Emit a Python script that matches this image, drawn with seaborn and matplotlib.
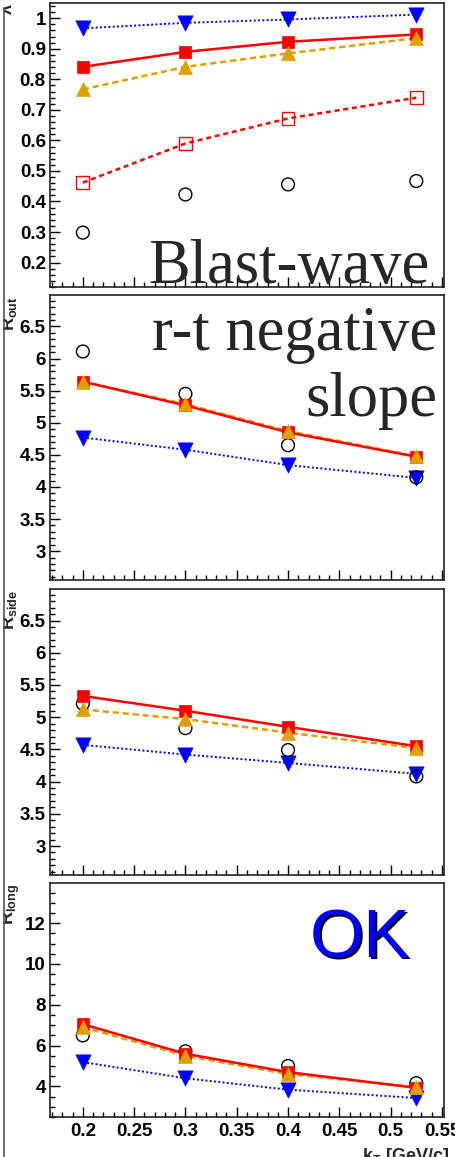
import numpy as np
import pandas as pd
import seaborn as sns
import matplotlib
matplotlib.use("Agg")
import matplotlib.pyplot as plt
from matplotlib.ticker import MultipleLocator, FuncFormatter
from matplotlib.patches import Rectangle
from matplotlib.lines import Line2D

# ---------------- data ----------------
kt = [0.2, 0.3, 0.4, 0.525]

lam_data = [0.298, 0.423, 0.456, 0.467]
lam_red = [0.841, 0.890, 0.923, 0.947]
lam_orange = [0.767, 0.841, 0.885, 0.935]
lam_blue = [0.967, 0.985, 0.996, 1.012]
lam_open = [0.462, 0.590, 0.672, 0.740]

rout_data = [6.11, 5.45, 4.65, 4.15]
rout_red = [5.64, 5.27, 4.85, 4.47]
rout_orange = [5.64, 5.29, 4.87, 4.48]
rout_blue = [4.77, 4.58, 4.34, 4.14]

rside_data = [5.21, 4.83, 4.49, 4.08]
rside_red = [5.33, 5.10, 4.85, 4.55]
rside_orange = [5.12, 4.97, 4.76, 4.52]
rside_blue = [4.57, 4.42, 4.29, 4.12]

rlong_data = [6.50, 5.72, 5.00, 4.16]
rlong_red = [7.05, 5.60, 4.70, 3.93]
rlong_orange = [6.90, 5.50, 4.60, 3.97]
rlong_blue = [5.19, 4.40, 3.84, 3.43]

ylabels = ["λ", r"$\mathbf{R_{out}}$", r"$\mathbf{R_{side}}$", r"$\mathbf{R_{long}}$"]
xlabel = r"$\mathbf{k_T}$ [GeV/c]"

# ---------------- style ----------------
sns.set_style("white")
plt.rcParams['font.family'] = ['Liberation Sans', 'DejaVu Sans']
plt.rcParams['mathtext.fontset'] = 'custom'
plt.rcParams['mathtext.rm'] = 'Liberation Sans'
plt.rcParams['mathtext.bf'] = 'Liberation Sans:bold'
plt.rcParams['mathtext.it'] = 'Liberation Sans:italic'

W, H = 456, 1157
fig = plt.figure(figsize=(W / 100, H / 100), dpi=100)

RED = '#ff0000'
ORANGE = '#dfa000'
BLUE = '#0000ff'

def px_axes(top, bottom, left=50, right=444):
    return fig.add_axes([left / W, (H - bottom) / H, (right - left) / W, (bottom - top) / H])

panels = [
    dict(top=3, bottom=287, ylim=(0.12, 1.05), major=0.1, minor=0.02,
         data=lam_data, red=lam_red, orange=lam_orange, blue=lam_blue, opn=lam_open),
    dict(top=295, bottom=580, ylim=(2.55, 6.99), major=0.5, minor=0.1,
         data=rout_data, red=rout_red, orange=rout_orange, blue=rout_blue, opn=None),
    dict(top=589, bottom=875, ylim=(2.55, 6.99), major=0.5, minor=0.1,
         data=rside_data, red=rside_red, orange=rside_orange, blue=rside_blue, opn=None),
    dict(top=883, bottom=1117, ylim=(2.5, 13.97), major=2, minor=0.5,
         data=rlong_data, red=rlong_red, orange=rlong_orange, blue=rlong_blue, opn=None),
]

fmt = FuncFormatter(lambda v, p: f"{v:g}")
axes = []
for i, p in enumerate(panels):
    ax = px_axes(p['top'], p['bottom'])
    axes.append(ax)
    # lines
    sns.lineplot(x=kt, y=p['blue'], ax=ax, color=BLUE, linestyle=(0, (1, 1.2)), linewidth=1.4, zorder=2)
    sns.lineplot(x=kt, y=p['orange'], ax=ax, color=ORANGE, linestyle=(0, (2.5, 1.5)), linewidth=1.8, zorder=2)
    sns.lineplot(x=kt, y=p['red'], ax=ax, color=RED, linestyle='-', linewidth=1.8, zorder=3)
    if p['opn'] is not None:
        sns.lineplot(x=kt, y=p['opn'], ax=ax, color=RED, linestyle=(0, (2, 1.5)), linewidth=1.8, zorder=2)
        sns.scatterplot(x=kt, y=p['opn'], ax=ax, marker='s', s=85, facecolor='none',
                        edgecolor=RED, linewidth=1.0, zorder=4)
    # points
    sns.scatterplot(x=kt, y=p['blue'], ax=ax, marker='v', s=120, color=BLUE, edgecolor=BLUE, linewidth=0.5, zorder=4)
    sns.scatterplot(x=kt, y=p['data'], ax=ax, marker='o', s=85, facecolor='none', edgecolor='black', linewidth=1.0, zorder=5)
    sns.scatterplot(x=kt, y=p['red'], ax=ax, marker='s', s=85, color=RED, edgecolor=RED, linewidth=0.5, zorder=6)
    sns.scatterplot(x=kt, y=p['orange'], ax=ax, marker='^', s=100, color=ORANGE, edgecolor=ORANGE, linewidth=0.5, zorder=7)

    ax.set_xlim(0.168, 0.552)
    ax.set_ylim(*p['ylim'])
    ax.xaxis.set_major_locator(MultipleLocator(0.05))
    ax.xaxis.set_minor_locator(MultipleLocator(0.01))
    ax.yaxis.set_major_locator(MultipleLocator(p['major']))
    ax.yaxis.set_minor_locator(MultipleLocator(p['minor']))
    ax.yaxis.set_major_formatter(fmt)
    ax.xaxis.set_major_formatter(fmt)
    ax.tick_params(which='both', direction='in', left=True, bottom=True, top=False, right=False,
                   labelsize=13.5, colors='black', width=1.0)
    ax.tick_params(which='major', length=7.5)
    ax.tick_params(which='minor', length=3.6)
    ax.tick_params(axis='y', pad=3)
    ax.tick_params(axis='x', pad=4)
    for lab in ax.get_yticklabels() + ax.get_xticklabels():
        lab.set_fontweight('bold')
    if i < 3:
        ax.tick_params(axis='x', labelbottom=False)
    for s in ax.spines.values():
        s.set_linewidth(1.2)
        s.set_color('#222222')
    ax.set_xlabel('')
    ax.set_ylabel('')
    ax.set_facecolor('white')
    # y label rotated at top left (partly hidden behind the neighbouring frame)
    fig.text(-1 / W, 1 - (p['top'] + 1) / H, ylabels[i], rotation=90, ha='left', va='top',
             fontsize=13, fontweight='bold')

# annotations
fig.text(430 / W, 1 - 283 / H, "Blast-wave", family='Liberation Serif', fontsize=45,
         ha='right', va='baseline')
fig.text(437 / W, 1 - 350 / H, "r-t negative", family='Liberation Serif', fontsize=45,
         ha='right', va='baseline')
fig.text(437 / W, 1 - 416 / H, "slope", family='Liberation Serif', fontsize=45,
         ha='right', va='baseline')
fig.text(362 / W, 1 - 959 / H, "OK", fontsize=50, color='black', ha='center', va='baseline')
fig.text(360 / W, 1 - 957 / H, "OK", fontsize=50, color=BLUE, ha='center', va='baseline')

# x label (partially cut at bottom, as in the reference)
fig.text(449 / W, 1 - 1161 / H, xlabel, fontsize=13, fontweight='bold', ha='right', va='baseline')

# neighbouring panel remnants at the left edge
fig.text(4 / W, 1 - 1139 / H, "0.55", fontsize=13.5, fontweight='bold', ha='right', va='baseline')
fig.patches.append(Rectangle((0, 0), 3.5 / W, 1, transform=fig.transFigure, facecolor='white',
                             edgecolor='none', zorder=10))
fig.lines.append(Line2D([4 / W, 4 / W], [0, 1 - 8 / H], transform=fig.transFigure,
                        color='#555555', linewidth=1.2, zorder=11))

fig.savefig("out.png", dpi=100)
